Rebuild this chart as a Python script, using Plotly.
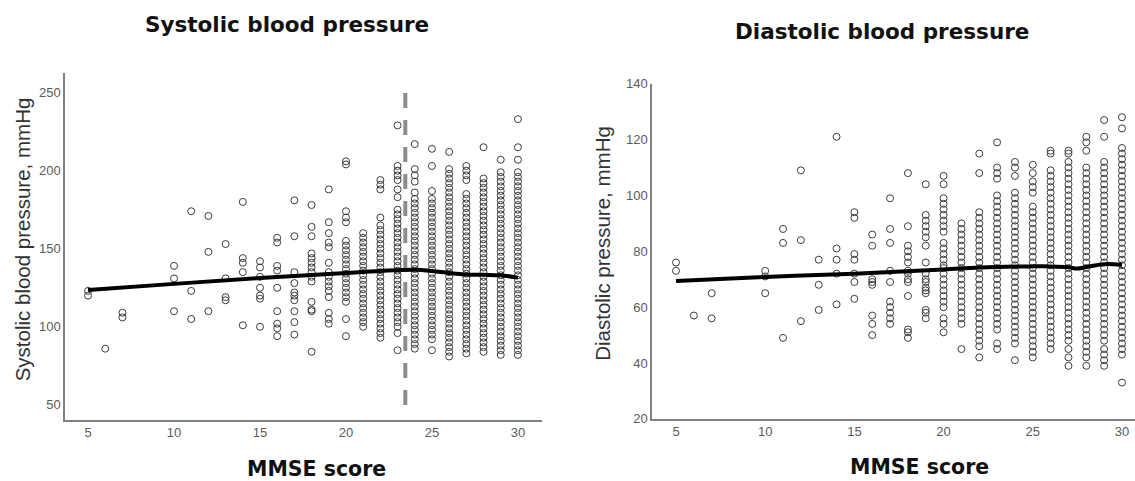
import plotly.graph_objects as go

W, H = 1135, 481

# ---------------- data ----------------
sbp_scores = [5, 6, 7, 10, 11, 12, 13, 14, 15, 16, 17, 18, 19, 20, 21, 22, 23, 24, 25, 26, 27, 28, 29, 30]
sbp_values = [
    [120, 123],
    [86],
    [106, 109],
    [110, 131, 139],
    [105, 123, 174],
    [110, 148, 171],
    [117, 119, 131, 153],
    [101, 135, 141, 144, 180],
    [100, 118, 120, 125, 132, 138, 142],
    [94, 99, 102, 110, 125, 136, 139, 154, 157],
    [95, 103, 110, 117, 120, 122, 128, 135, 158, 181],
    [84, 110, 111, 116, 129, 132, 135, 138, 141, 144, 147, 158, 164, 178],
    [102, 105, 109, 119, 123, 126, 129, 132, 135, 141, 151, 154, 160, 167, 188],
    [94, 105, 116, 119, 122, 125, 128, 131, 134, 137, 140, 143, 146, 149, 152, 155, 167, 170, 174, 204, 206],
    [100, 103, 106, 109, 112, 115, 118, 121, 124, 127, 130, 133, 136, 139, 142, 145, 148, 151, 154, 157, 160],
    [93, 96, 99, 102, 105, 108, 111, 114, 117, 120, 123, 126, 129, 132, 135, 138, 141, 144, 147, 150, 153, 156,
     159, 162, 165, 170, 188, 191, 194],
    [85, 96, 100, 103, 106, 109, 112, 115, 118, 121, 124, 127, 130, 133, 136, 139, 142, 145, 148, 151, 154, 157,
     160, 163, 166, 169, 172, 175, 183, 188, 194, 197, 200, 203, 229],
    [86, 89, 92, 95, 98, 101, 104, 107, 110, 113, 116, 119, 122, 125, 128, 131, 134, 137, 140, 143, 146, 149,
     152, 155, 158, 161, 164, 167, 170, 173, 176, 179, 182, 186, 193, 197, 201, 217],
    [85, 92, 95, 98, 101, 104, 107, 110, 113, 116, 119, 122, 125, 128, 131, 134, 137, 140, 143, 146, 149, 152,
     155, 158, 161, 164, 167, 170, 173, 176, 179, 182, 187, 203, 214],
    [81, 84, 87, 90, 93, 96, 99, 102, 105, 108, 111, 114, 117, 120, 123, 126, 129, 132, 135, 138, 141, 144,
     147, 150, 153, 156, 159, 162, 165, 168, 171, 174, 177, 180, 183, 186, 189, 192, 195, 198, 201, 212],
    [83, 86, 89, 92, 95, 98, 101, 104, 107, 110, 113, 116, 119, 122, 125, 128, 131, 134, 137, 140, 143, 146,
     149, 152, 155, 158, 161, 164, 167, 170, 173, 176, 179, 182, 185, 194, 197, 200, 203],
    [84, 87, 90, 93, 96, 99, 102, 105, 108, 111, 114, 117, 120, 123, 126, 129, 132, 135, 138, 141, 144, 147,
     150, 153, 156, 159, 162, 165, 168, 171, 174, 177, 180, 183, 186, 189, 192, 195, 215],
    [82, 85, 88, 91, 94, 97, 100, 103, 106, 109, 112, 115, 118, 121, 124, 127, 130, 133, 136, 139, 142, 145,
     148, 151, 154, 157, 160, 163, 166, 169, 172, 175, 178, 181, 184, 187, 190, 193, 196, 199, 207],
    [82, 85, 88, 91, 94, 97, 100, 103, 106, 109, 112, 115, 118, 121, 124, 127, 130, 133, 136, 139, 142, 145,
     148, 151, 154, 157, 160, 163, 166, 169, 172, 175, 178, 181, 184, 187, 190, 193, 196, 199, 207, 215, 233],
]

dbp_scores = [5, 6, 7, 10, 11, 12, 13, 14, 15, 16, 17, 18, 19, 20, 21, 22, 23, 24, 25, 26, 27, 28, 29, 30]
dbp_values = [
    [73, 76],
    [57],
    [56, 65],
    [65, 71, 73],
    [49, 83, 88],
    [55, 84, 109],
    [59, 68, 77],
    [61, 72, 77, 81, 121],
    [63, 69, 72, 77, 79, 92, 94],
    [50, 54, 57, 68, 69, 70, 82, 86],
    [54, 56, 58, 60, 62, 69, 73, 83, 88, 99],
    [49, 51, 52, 64, 69, 70, 72, 73, 76, 78, 80, 82, 89, 108],
    [56, 58, 59, 65, 66, 67, 69, 70, 72, 76, 82, 85, 87, 89, 91, 93, 104],
    [51, 54, 56, 60, 62, 64, 66, 68, 70, 72, 74, 75, 77, 79, 81, 83, 87, 89, 91, 93, 95, 97, 99, 104, 107],
    [45, 54, 56, 58, 60, 62, 64, 66, 68, 70, 72, 74, 76, 78, 80, 82, 84, 86, 88, 90],
    [42, 46, 48, 50, 52, 54, 56, 58, 60, 62, 64, 66, 68, 70, 72, 74, 76, 78, 80, 82, 84, 86, 88, 90, 92, 94,
     108, 115],
    [45, 47, 52, 54, 56, 58, 60, 62, 64, 66, 68, 70, 72, 74, 76, 78, 80, 82, 84, 86, 88, 90, 92, 94, 96, 98,
     100, 106, 108, 110, 119],
    [41, 47, 49, 51, 53, 55, 57, 59, 61, 63, 65, 67, 69, 71, 73, 75, 77, 79, 81, 83, 85, 87, 89, 91, 93, 95,
     97, 99, 101, 107, 110, 112],
    [42, 44, 46, 48, 50, 52, 54, 56, 58, 60, 62, 64, 66, 68, 70, 72, 74, 76, 78, 80, 82, 84, 86, 88, 90, 92,
     94, 96, 101, 103, 105, 108, 111],
    [45, 47, 49, 51, 53, 55, 57, 59, 61, 63, 65, 67, 69, 71, 73, 75, 77, 79, 81, 83, 85, 87, 89, 91, 93, 95,
     97, 99, 101, 103, 105, 107, 109, 115, 116],
    [39, 42, 45, 48, 50, 52, 54, 56, 58, 60, 62, 64, 66, 68, 70, 72, 74, 76, 78, 80, 82, 84, 86, 88, 90, 92,
     94, 96, 98, 100, 102, 104, 106, 108, 110, 112, 115, 116],
    [39, 42, 44, 46, 48, 50, 52, 54, 56, 58, 60, 62, 64, 66, 68, 70, 72, 74, 76, 78, 80, 82, 84, 86, 88, 90,
     92, 94, 96, 98, 100, 102, 104, 106, 108, 110, 116, 119, 121],
    [39, 41, 43, 45, 48, 50, 52, 54, 56, 58, 60, 62, 64, 66, 68, 70, 72, 74, 76, 78, 80, 82, 84, 86, 88, 90,
     92, 94, 96, 98, 100, 102, 104, 106, 108, 110, 112, 121, 127],
    [33, 43, 45, 47, 49, 51, 53, 55, 57, 59, 61, 63, 65, 67, 69, 71, 73, 75, 77, 79, 81, 83, 85, 87, 89, 91,
     93, 95, 97, 99, 101, 103, 105, 107, 109, 111, 113, 115, 117, 124, 128],
]

# fitted (loess) curves
sbp_fit_x = [5, 10, 15, 20, 22, 24, 25, 26, 27, 28, 29, 30]
sbp_fit_y = [123.5, 127.5, 131.2, 134.5, 135.8, 136.6, 135.8, 134.5, 133.5, 133.3, 133.0, 131.5]
dbp_fit_x = [5, 10, 15, 20, 22, 25, 26, 27, 27.5, 28, 29, 30]
dbp_fit_y = [69.4, 70.8, 72.0, 73.5, 74.2, 74.6, 74.6, 74.3, 73.8, 74.4, 75.4, 75.1]

# MMSE cut-off reference line (left panel)
cutoff_x = 23.45
cutoff_y = [50, 256]

x_ticks = [5, 10, 15, 20, 25, 30]
sbp_ticks = [50, 100, 150, 200, 250]
dbp_ticks = [20, 40, 60, 80, 100, 120, 140]


def flatten(scores, values):
    xs, ys = [], []
    for s, vals in zip(scores, values):
        for v in vals:
            xs.append(s)
            ys.append(v)
    return xs, ys


sx, sy = flatten(sbp_scores, sbp_values)
dx, dy = flatten(dbp_scores, dbp_values)

MARKER = dict(symbol="circle-open", size=7, color="#3c3c3c", line=dict(width=1, color="#3c3c3c"))

fig = go.Figure()
fig.add_trace(go.Scatter(x=sx, y=sy, mode="markers", marker=MARKER, xaxis="x", yaxis="y",
                         showlegend=False, hoverinfo="skip"))
fig.add_trace(go.Scatter(x=[cutoff_x, cutoff_x], y=cutoff_y, mode="lines",
                         line=dict(color="#8c8c8c", width=4, dash="15px,12px"),
                         xaxis="x", yaxis="y", showlegend=False, hoverinfo="skip"))
fig.add_trace(go.Scatter(x=sbp_fit_x, y=sbp_fit_y, mode="lines", line=dict(color="black", width=4, shape="spline"),
                         xaxis="x", yaxis="y", showlegend=False, hoverinfo="skip"))

fig.add_trace(go.Scatter(x=dx, y=dy, mode="markers", marker=MARKER, xaxis="x2", yaxis="y2",
                         showlegend=False, hoverinfo="skip"))
fig.add_trace(go.Scatter(x=dbp_fit_x, y=dbp_fit_y, mode="lines", line=dict(color="black", width=4, shape="spline"),
                         xaxis="x2", yaxis="y2", showlegend=False, hoverinfo="skip"))

TICKFONT = dict(family="Liberation Sans Narrow, Arial Narrow, Liberation Sans, sans-serif", size=13, color="#5a5a5a")
AX = dict(showgrid=False, zeroline=False, showline=True, linecolor="#808080", linewidth=1.5,
          ticks="", tickfont=TICKFONT, fixedrange=True)

# the page is photographed with a slight vertical squeeze; compensate
SQ, OFF = 0.9713, 6.07


def px_x(p):
    return p / W


def px_y(p):
    return 1 - ((p - OFF) / SQ) / H


fig.update_layout(
    width=W, height=H,
    margin=dict(l=0, r=0, t=0, b=0),
    paper_bgcolor="white", plot_bgcolor="white",
    xaxis=dict(AX, domain=[px_x(65), px_x(542)], range=[3.66, 31.4], tickvals=x_ticks, anchor="y"),
    yaxis=dict(AX, domain=[px_y(420), px_y(72)], range=[40.4, 262.7], tickvals=sbp_ticks, anchor="x"),
    xaxis2=dict(AX, domain=[px_x(652), px_x(1135)], range=[3.655, 30.73], tickvals=x_ticks, anchor="y2"),
    yaxis2=dict(AX, domain=[px_y(419), px_y(83)], range=[20, 140], tickvals=dbp_ticks, anchor="x2"),
)

TITLE_FONT = dict(family="DejaVu Sans", size=21.5, color="#111111")
XT_FONT = dict(family="DejaVu Sans", size=20.5, color="#111111")
YT_FONT = dict(family="Liberation Sans, Arial, sans-serif", size=20.5, color="#333333")


def ann(text, x, y, font, angle=0):
    fig.add_annotation(text=text, x=px_x(x), y=px_y(y), xref="paper", yref="paper",
                       xanchor="center", yanchor="middle", showarrow=False, font=font, textangle=angle)


ann("<b>Systolic blood pressure</b>", 287, 24, TITLE_FONT)
ann("<b>Diastolic blood pressure</b>", 882, 31, TITLE_FONT)
ann("<b>MMSE score</b>", 316, 469, XT_FONT)
ann("<b>MMSE score</b>", 919, 467, XT_FONT)
ann("Systolic blood pressure, mmHg", 22, 239, YT_FONT, -90)
ann("Diastolic pressure, mmHg", 603, 243.5, YT_FONT, -90)

fig.write_html("out.html", config={"displayModeBar": False},
               post_script="document.body.style.margin='0px';document.body.style.overflow='hidden';")
